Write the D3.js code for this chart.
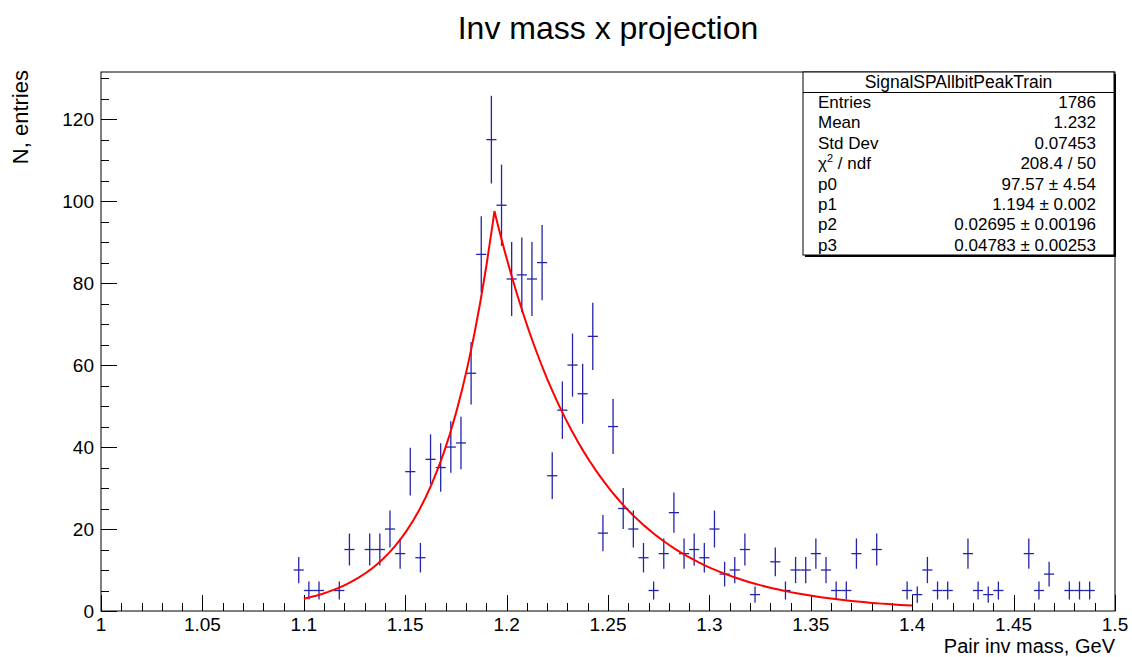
<!DOCTYPE html>
<html>
<head>
<meta charset="utf-8">
<script src="https://cdn.jsdelivr.net/npm/d3@7"></script>
<style>
  body { margin: 0; background: #fff; }
  text { font-family: "Liberation Sans", Arial, Helvetica, sans-serif; }
</style>
</head>
<body>
<svg id="vis"></svg>
<script>
// histogram: bins of 0.005 GeV starting at 1.095
const FIRST_BIN = 1.095;
const BIN_WIDTH = 0.005;
const counts = [10, 5, 5, 0, 5, 15, 0, 15, 15, 20, 14, 34, 13, 37, 35, 40, 41, 58, 87, 115,
    99, 81, 82, 81, 85, 33, 49, 60, 53, 67, 19, 45, 25, 20, 13, 5, 14, 24, 14, 15,
    13, 20, 9, 10, 15, 4, 0, 12, 5, 10, 10, 14, 10, 5, 5, 14, 0, 15, 0, 0,
    5, 4, 10, 5, 5, 0, 14, 5, 4, 5, 0, 0, 14, 5, 9, 0, 5, 5, 5];
const errs = [3.2, 2.2, 2.2, 0, 2.2, 3.9, 0, 3.9, 3.9, 4.5, 3.7, 5.8, 3.6, 6.1, 5.9, 6.3, 6.4, 7.6, 9.3, 10.7,
    9.9, 9.0, 9.1, 9.0, 9.2, 5.7, 7.0, 7.7, 7.3, 8.2, 4.4, 6.7, 5.0, 4.5, 3.6, 2.2, 3.7, 4.9, 3.7, 3.9,
    3.6, 4.5, 3.0, 3.2, 3.9, 2.0, 0, 3.5, 2.2, 3.2, 3.2, 3.7, 3.2, 2.2, 2.2, 3.7, 0, 3.9, 0, 0,
    2.2, 2.0, 3.2, 2.2, 2.2, 0, 3.7, 2.2, 2.0, 2.2, 0, 0, 3.7, 2.2, 3.0, 0, 2.2, 2.2, 2.2];

// fit: p0 * exp(-|x-p1|/p2) left of peak, p3 on the right
const fitParams = [97.57, 1.194, 0.02695, 0.04783];
const fitRange = [1.1, 1.4];

const xTicks = [1, 1.05, 1.1, 1.15, 1.2, 1.25, 1.3, 1.35, 1.4, 1.45, 1.5];
const yTicks = [0, 20, 40, 60, 80, 100, 120];

const statLabels = ["Entries", "Mean", "Std Dev", "chi", "p0", "p1", "p2", "p3"];
const statValues = ["1786", "1.232", "0.07453", "208.4 / 50", "97.57 \u00b1 4.54",
    "1.194 \u00b1 0.002", "0.02695 \u00b1 0.00196", "0.04783 \u00b1 0.00253"];

const WIDTH = 1132;
const HEIGHT = 657;
const LEFT = 101, RIGHT = 1115, TOP = 72, BOTTOM = 611;

const svg = d3.select("#vis")
    .attr("width", WIDTH)
    .attr("height", HEIGHT);

const x = d3.scaleLinear().domain([1, 1.5]).range([LEFT, RIGHT]);
const y = d3.scaleLinear().domain([0, 131.5]).range([BOTTOM, TOP]);

// frame
svg.append("rect")
    .attr("x", LEFT).attr("y", TOP)
    .attr("width", RIGHT - LEFT).attr("height", BOTTOM - TOP)
    .attr("fill", "none").attr("stroke", "#000").attr("stroke-width", 1);

// x axis ticks (major + minor)
const xMinor = d3.range(0, 51).map(i => 1 + i * 0.01);
svg.append("g").selectAll("line")
    .data(xMinor)
    .join("line")
    .attr("x1", d => Math.round(x(d)) + 0.5).attr("x2", d => Math.round(x(d)) + 0.5)
    .attr("y1", BOTTOM)
    .attr("y2", (d, i) => i % 5 === 0 ? BOTTOM - 16 : BOTTOM - 8)
    .attr("stroke", "#000");

svg.append("g").selectAll("text")
    .data(xTicks)
    .join("text")
    .attr("x", d => x(d))
    .attr("y", 631)
    .attr("text-anchor", "middle")
    .attr("font-size", 19)
    .text(d => d3.format("")(d));

// y axis ticks
const yMinor = d3.range(0, 27).map(i => i * 5);
svg.append("g").selectAll("line")
    .data(yMinor)
    .join("line")
    .attr("x1", LEFT)
    .attr("x2", (d, i) => i % 4 === 0 ? LEFT + 16 : LEFT + 8)
    .attr("y1", d => Math.round(y(d)) + 0.5).attr("y2", d => Math.round(y(d)) + 0.5)
    .attr("stroke", "#000");

svg.append("g").selectAll("text")
    .data(yTicks)
    .join("text")
    .attr("x", 94)
    .attr("y", d => y(d) + 7)
    .attr("text-anchor", "end")
    .attr("font-size", 19)
    .text(d => d);

// axis titles
svg.append("text")
    .attr("transform", `translate(28, 70) rotate(-90)`)
    .attr("text-anchor", "end")
    .attr("font-size", 22)
    .text("N, entries");

svg.append("text")
    .attr("x", RIGHT)
    .attr("y", 653)
    .attr("text-anchor", "end")
    .attr("font-size", 20)
    .text("Pair inv mass, GeV");

// title
svg.append("text")
    .attr("x", 608)
    .attr("y", 39)
    .attr("text-anchor", "middle")
    .attr("font-size", 32)
    .text("Inv mass x projection");

// histogram points with error bars
const bins = counts.map((c, i) => ({
    center: FIRST_BIN + (i + 0.5) * BIN_WIDTH,
    value: c,
    err: errs[i]
})).filter(d => d.value > 0);

const pts = svg.append("g")
    .attr("stroke", "#2424aa")
    .attr("stroke-width", 1.3);

pts.selectAll(".hbar")
    .data(bins)
    .join("line")
    .attr("class", "hbar")
    .attr("x1", d => x(d.center - BIN_WIDTH / 2))
    .attr("x2", d => x(d.center + BIN_WIDTH / 2))
    .attr("y1", d => y(d.value))
    .attr("y2", d => y(d.value));

pts.selectAll(".vbar")
    .data(bins)
    .join("line")
    .attr("class", "vbar")
    .attr("x1", d => x(d.center))
    .attr("x2", d => x(d.center))
    .attr("y1", d => y(d.value - d.err))
    .attr("y2", d => y(d.value + d.err));

// fit curve
function fitFunc(m) {
    const [p0, p1, p2, p3] = fitParams;
    const s = m < p1 ? p2 : p3;
    return p0 * Math.exp(-Math.abs(m - p1) / s);
}
const fitPts = d3.range(0, 101)
    .map(i => fitRange[0] + i * (fitRange[1] - fitRange[0]) / 100)
    .concat([fitParams[1]])
    .sort(d3.ascending);

svg.append("path")
    .datum(fitPts)
    .attr("d", d3.line().x(d => x(d)).y(d => y(fitFunc(d))))
    .attr("fill", "none")
    .attr("stroke", "#ff0000")
    .attr("stroke-width", 2);

// stat box
const BX = 803, BY = 72, BW = 311, BH = 183;
svg.append("rect")
    .attr("x", BX + 2).attr("y", BY + 2)
    .attr("width", BW).attr("height", BH)
    .attr("fill", "#000");
svg.append("rect")
    .attr("x", BX).attr("y", BY)
    .attr("width", BW).attr("height", BH)
    .attr("fill", "#fff").attr("stroke", "#000");
svg.append("line")
    .attr("x1", BX).attr("x2", BX + BW)
    .attr("y1", BY + 20.5).attr("y2", BY + 20.5)
    .attr("stroke", "#000");
svg.append("text")
    .attr("x", BX + BW / 2)
    .attr("y", BY + 16)
    .attr("text-anchor", "middle")
    .attr("font-size", 17.5)
    .text("SignalSPAllbitPeakTrain");

const rows = svg.append("g").attr("font-size", 17);
statLabels.forEach((lab, i) => {
    const ty = 108 + i * 20.4;
    const t = rows.append("text").attr("x", 818).attr("y", ty);
    if (lab === "chi") {
        t.append("tspan").text("\u03c7");
        t.append("tspan").attr("font-size", 11).attr("dy", -7).text("2");
        t.append("tspan").attr("dy", 7).text(" / ndf");
    } else {
        t.text(lab);
    }
    rows.append("text")
        .attr("x", 1096).attr("y", ty)
        .attr("text-anchor", "end")
        .text(statValues[i]);
});
</script>
</body>
</html>
